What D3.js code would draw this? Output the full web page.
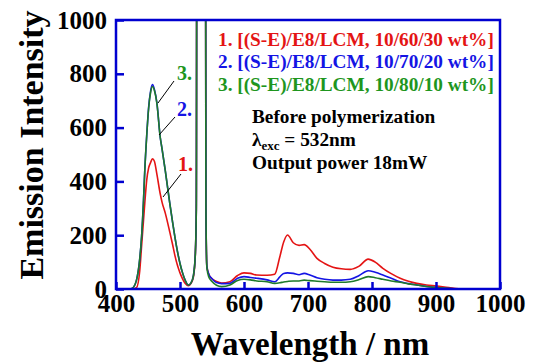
<!DOCTYPE html>
<html><head><meta charset="utf-8">
<script src="https://cdn.jsdelivr.net/npm/d3@7/dist/d3.min.js"></script>
<style>body{margin:0;background:#fff}svg{display:block}text{font-family:"Liberation Serif","Times New Roman",serif;font-weight:bold}</style>
</head><body>
<script>
const wavelengths = [420,425,432,437,440,443,445,448,451,454,457,460,464,469,472,477,484,488,492,496,500,504,508,513,517,521,524,525.5,527,533,539,540.5,542,545,550,557,565,578,590,600,610,620,636,648,656,662,668,677,686,694,703,714,726,739,752,766,780,794,805,817,830,844,857,870,885,901,920,943,970,1000];
const series1 = [0,0,5,65,160,256,320,405,450,470,484,475,425,355,322,282,212,170,125,88,60,38,21,12,20,45,130,300,3000,3000,3000,300,85,55,38,28,22,27,50,60,58,52,51,55,120,175,201,172,162,165,148,114,95,81,75,73,85,111,100,77,57,40,29,21,15,11,5,0,0,0];
const series2 = [0,2,33,110,195,330,442,570,675,735,760,742,690,566,520,440,319,255,194,140,95,60,33,15,22,50,133,300,3000,3000,3000,300,83,55,38,24,20,21,40,46,43,40,34,27,45,58,60,58,53,58,52,42,36,33,33,36,50,68,62,52,40,27,20,15,9,5,2,0,0,0];
const series3 = [0,2,33,110,195,330,442,570,672,730,753,738,688,566,520,440,319,255,194,140,95,60,33,15,22,50,133,300,3000,3000,3000,300,80,45,28,14,9,15,32,36,34,30,27,21,23,26,28,30,30,33,31,29,27,25,25,27,35,46,42,36,30,25,19,15,9,5,2,0,0,0];
const xTicks = [400,500,600,700,800,900,1000];
const yTicks = [0,200,400,600,800,1000];
const legendLabels = ["1. [(S-E)/E8/LCM, 10/60/30 wt%]","2. [(S-E)/E8/LCM, 10/70/20 wt%]","3. [(S-E)/E8/LCM, 10/80/10 wt%]"];
const colors = ["#e41414","#1414e4","#1f7a2a"];
const textColors = ["#e41414","#1414e4","#1e961e"];

const W=533,H=362, L=116,R=500,T=20,B=289;
const svg=d3.select("body").append("svg").attr("width",W).attr("height",H);
const x=d3.scaleLinear().domain([400,1000]).range([L,R]);
const y=d3.scaleLinear().domain([0,1000]).range([B,T]);
const frame="#0000d0";

svg.append("clipPath").attr("id","c").append("rect").attr("x",L).attr("y",T).attr("width",R-L).attr("height",B-T);

const line=d3.line().x((d,i)=>x(wavelengths[i])).y(d=>y(d)).curve(d3.curveMonotoneX);
const g=svg.append("g").attr("clip-path","url(#c)");
[series1,series2,series3].forEach((s,i)=>{
  g.append("path").attr("d",line(s)).attr("fill","none").attr("stroke",colors[i]).attr("stroke-width",1.6);
});

// axes
const xa=d3.axisBottom(x).tickValues(xTicks).tickSize(-7).tickFormat(d3.format("d"));
const ya=d3.axisLeft(y).tickValues(yTicks).tickSize(-8).tickFormat(d3.format("d"));
const gx=svg.append("g").attr("transform",`translate(0,${B})`).call(xa);
const gy=svg.append("g").attr("transform",`translate(${L},0)`).call(ya);
[gx,gy].forEach(a=>{a.select(".domain").remove();a.selectAll("line").attr("stroke",frame).attr("stroke-width",2.5);
  a.selectAll("text").attr("fill","#000").style("font-size","25px");});
gx.selectAll("text").attr("y",null).attr("dy",null).attr("transform","translate(0,23)");
gy.selectAll("text").attr("x",-9).attr("dy",null).attr("transform","translate(0,8)");
svg.append("rect").attr("x",L).attr("y",T).attr("width",R-L).attr("height",B-T).attr("fill","none").attr("stroke",frame).attr("stroke-width",2.5);

// titles
svg.append("text").attr("transform","translate(43,145) rotate(-90)").attr("text-anchor","middle").style("font-size","34px").text("Emission Intensity");
svg.append("text").attr("x",310).attr("y",355).attr("text-anchor","middle").style("font-size","33px").text("Wavelength / nm");

// legend
const lb=[46,68,91];
legendLabels.forEach((t,i)=>svg.append("text").attr("x",218).attr("y",lb[i]).attr("fill",textColors[i]).style("font-size","19.3px").text(t));
svg.append("text").attr("x",252).attr("y",123).style("font-size","19.3px").text("Before polymerization");
const t2=svg.append("text").attr("x",252).attr("y",146).style("font-size","19.3px");
t2.append("tspan").text("λ");
t2.append("tspan").attr("dy",4).style("font-size","13px").text("exc");
t2.append("tspan").attr("dy",-4).text(" = 532nm");
svg.append("text").attr("x",252).attr("y",169).style("font-size","19.3px").text("Output power 18mW");

// annotations
const ann=[{t:"3.",x:177,y:80,l:[174,81,158,103]},{t:"2.",x:177,y:116,l:[175,117,159,135]},{t:"1.",x:178,y:171,l:[181,174,163,197]}];
ann.forEach((a,i)=>{
  const c=textColors[2-i];
  svg.append("text").attr("x",a.x).attr("y",a.y).attr("fill",c).style("font-size","20px").text(a.t);
  svg.append("line").attr("x1",a.l[0]).attr("y1",a.l[1]).attr("x2",a.l[2]).attr("y2",a.l[3]).attr("stroke","#000").attr("stroke-width",1);
});
</script>
</body></html>
